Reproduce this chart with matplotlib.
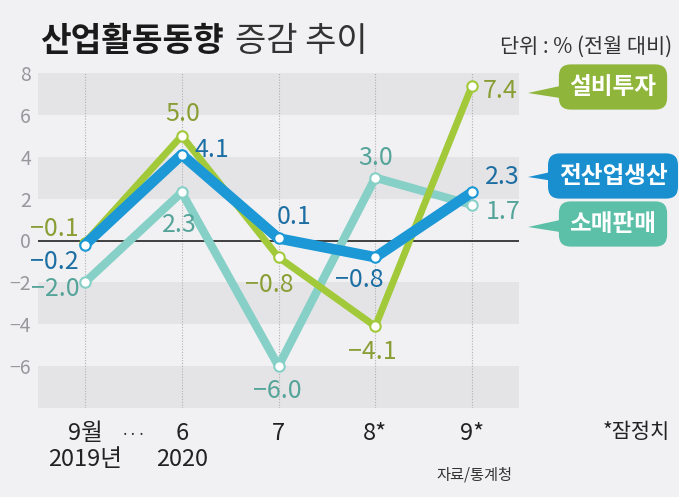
import numpy as np
import matplotlib.pyplot as plt
from matplotlib.patches import Polygon

plt.rcParams['font.family'] = ['Noto Sans CJK KR', 'DejaVu Sans']

# data
x_labels = ['9월\n2019년', '6\n2020', '7', '8*', '9*']
facility = [-0.1, 5.0, -0.8, -4.1, 7.4]      # 설비투자
production = [-0.2, 4.1, 0.1, -0.8, 2.3]     # 전산업생산
retail = [-2.0, 2.3, -6.0, 3.0, 1.7]         # 소매판매

# label offsets in pixels (dx, dy)
fac_off = [(-31, 14), (1, 22), (-9, -28), (-3, -26), (28, -5)]
pro_off = [(-31, -17), (30, 5), (16, 21), (-16, -23), (30, 15)]
ret_off = [(-30, -7), (-2, -33), (-1, -25), (0, 20), (31, -7)]

bg = '#f1f1f3'
band = '#e4e4e6'
c_fac, t_fac = '#a2c93a', '#8a9e36'
c_pro, t_pro = '#1b98d5', '#1d6fa3'
c_ret, t_ret = '#86d0c7', '#55a49a'

fig = plt.figure(figsize=(6.79, 4.97), dpi=100, facecolor=bg)
ax = fig.add_axes([38/679, 1-408/497, (519-38)/679, (408-73)/497])
ax.set_facecolor(bg)

x = np.arange(len(x_labels))
ax.set_xlim(-0.485, 4.485)
ax.set_ylim(-8, 8)

for lo in [6, 2, -4, -8]:
    ax.axhspan(lo, lo + 2, color=band, lw=0, zorder=0)
for xi in x:
    ax.axvline(xi, color='#b0b0b4', lw=0.8, ls=(0, (1, 1.5)), zorder=1)
ax.axhline(0, color='#222222', lw=1.2, zorder=2)

def draw(vals, color, tcolor, lw, offs, z):
    ax.plot(x, vals, color=color, lw=lw, solid_capstyle='round', solid_joinstyle='round', zorder=z)
    ax.plot(x, vals, 'o', ms=7.5, mfc='white', mec=color, mew=1.5, zorder=z + 0.5)
    for xi, v, (dx, dy) in zip(x, vals, offs):
        s = f'{v:.1f}'.replace('-', '−')
        ax.annotate(s, (xi, v), xytext=(dx * 0.72, dy * 0.72), textcoords='offset points',
                    ha='center', va='center', fontsize=18, color=tcolor, zorder=10)

draw(retail, c_ret, t_ret, 6, ret_off, 3)
draw(facility, c_fac, t_fac, 5, fac_off, 4)
draw(production, c_pro, t_pro, 7.6, pro_off, 5)

for s in ax.spines.values():
    s.set_visible(False)
ax.set_yticks(range(-6, 9, 2))
ax.set_yticklabels([str(v).replace('-', '−') for v in range(-6, 9, 2)])
ax.tick_params(axis='y', length=0, pad=5, labelsize=14, labelcolor='#98989c')
ax.set_xticks(x)
ax.set_xticklabels(x_labels, fontsize=17, color='#222222', linespacing=1.15)
ax.tick_params(axis='x', length=0, pad=10)
ax.set_xticks([(0 + 1) / 2], minor=True)
ax.set_xticklabels(['···'], minor=True, fontsize=11, color='#222222')
ax.tick_params(axis='x', which='minor', length=0, pad=14)

# title & notes
fig.text(40/679, 1-42/497, '산업활동동향', fontsize=24, fontweight='bold', color='#1a1a1a', va='center')
fig.text(235/679, 1-42/497, '증감 추이', fontsize=24.5, fontweight='light', color='#333333', va='center')
fig.text(672/679, 1-47/497, '단위 : % (전월 대비)', fontsize=15, color='#333333', ha='right', va='center')
fig.text(670/679, 1-432/497, '*잠정치', fontsize=15, color='#222222', ha='right', va='center')
fig.text(474/679, 1-475/497, '자료/통계청', fontsize=11, color='#333333', ha='center', va='center')

# callout boxes
boxes = [('설비투자', '#8fb53a', 87, 93),
         ('전산업생산', '#1a8fd0', 176, 177),
         ('소매판매', '#5cc0a8', 224, 227)]
for name, fc, cy, ty in boxes:
    fig.text(613/679, 1-cy/497, name, fontsize=17, fontweight='bold', color='white',
             ha='center', va='center',
             bbox=dict(boxstyle='round,pad=0.45,rounding_size=0.5', fc=fc, ec='none'))
    tri = Polygon([(528/679, 1-ty/497), (560/679, 1-(ty-7)/497), (560/679, 1-(ty+5)/497)],
                  closed=True, transform=fig.transFigure, fc=fc, ec='none')
    fig.patches.append(tri)

fig.savefig('out.png', dpi=100, facecolor=bg)
